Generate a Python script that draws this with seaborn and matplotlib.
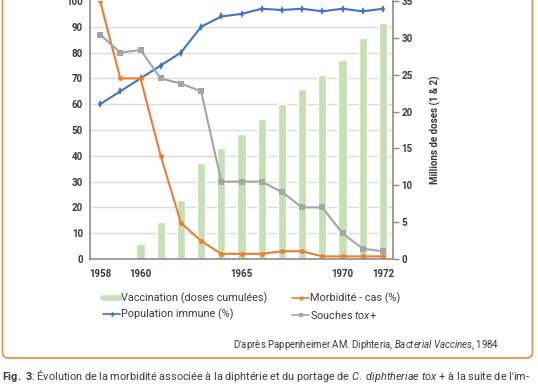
import matplotlib
matplotlib.use('Agg')
import matplotlib.pyplot as plt
import numpy as np
import pandas as pd
import seaborn as sns
from matplotlib.lines import Line2D
from matplotlib.patches import FancyBboxPatch
from matplotlib.ticker import MultipleLocator

years = list(range(1958, 1973))
vaccination = [np.nan, np.nan, 2, 5, 8, 13, 15, 17, 19, 21, 23, 25, 27, 30, 32]
population_immune = [60, 65, 70, 75, 80, 90, 94, 95, 97, 96.5, 97, 96, 97, 96, 97]
morbidite = [100, 70, 70, 40, 14, 7, 2, 2, 2, 3, 3, 1, 1, 1, 1]
souches = [87, 80, 81, 70, 68, 65, 30, 30, 30, 26, 20, 20, 10, 4, 3]
xtick_years = [1958, 1960, 1965, 1970, 1972]

GREEN = '#c5e0b4'
BLUE = '#4472c4'
ORANGE = '#ed7d31'
GRAY = '#a5a5a5'
TXT = '#3a3a3a'
SPINE = '#8c8c8c'

sns.set_style("white")
plt.rcParams['font.family'] = ['Roboto', 'DejaVu Sans']
plt.rcParams['mathtext.fontset'] = 'custom'
plt.rcParams['mathtext.rm'] = 'Roboto'
plt.rcParams['mathtext.it'] = 'Roboto:italic'
plt.rcParams['mathtext.bf'] = 'Roboto:bold'

df = pd.DataFrame({'year': years, 'vacc': vaccination, 'immune': population_immune,
                   'morb': morbidite, 'souches': souches})

fig = plt.figure(figsize=(5.38, 3.84), dpi=100)
ax_bar = fig.add_axes([90 / 538, 1 - 259 / 384, 303 / 538, 258 / 384])
ax_line = ax_bar.twinx()

# bars (right axis, millions of doses)
sns.barplot(data=df.dropna(subset=['vacc']), x='year', y='vacc', native_scale=True,
            width=0.4, color=GREEN, saturation=1, ax=ax_bar, zorder=2)
ax_bar.set_ylim(0, 35)
ax_bar.yaxis.tick_right()
ax_bar.yaxis.set_label_position('right')
ax_bar.yaxis.set_major_locator(MultipleLocator(5))
ax_bar.yaxis.set_minor_locator(MultipleLocator(3.5))
ax_bar.grid(which='minor', axis='y', color='#dcdcdc', lw=1)
ax_bar.grid(which='major', axis='y', visible=False)
ax_bar.set_axisbelow(True)
ax_bar.tick_params(axis='y', which='major', direction='out', length=4, width=1,
                   color=SPINE, pad=2, labelsize=7, labelcolor=TXT)
ax_bar.tick_params(axis='y', which='minor', length=0)
for lab in ax_bar.get_yticklabels():
    lab.set_fontweight('bold')
ax_bar.set_ylabel('Millions de doses (1 & 2)', fontsize=7, fontweight='bold',
                  color=TXT, labelpad=12)
ax_bar.set_xlabel('')
ax_bar.spines['top'].set_visible(False)
for side in ['left', 'right', 'bottom']:
    ax_bar.spines[side].set_color(SPINE)
    ax_bar.spines[side].set_linewidth(1.2)

# lines (left axis, %)
sns.lineplot(data=df, x='year', y='immune', color=BLUE, marker='d', markersize=4,
             markeredgewidth=0, lw=1.5, ax=ax_line, legend=False)
sns.lineplot(data=df, x='year', y='morb', color=ORANGE, marker='o', markersize=3.5,
             markeredgewidth=0, lw=1.5, ax=ax_line, legend=False)
sns.lineplot(data=df, x='year', y='souches', color=GRAY, marker='s', markersize=5,
             markeredgewidth=0, lw=1.5, ax=ax_line, legend=False)
ax_line.set_ylim(0, 100)
ax_line.yaxis.tick_left()
ax_line.yaxis.set_label_position('left')
ax_line.yaxis.set_major_locator(MultipleLocator(10))
ax_line.tick_params(axis='y', length=0, pad=5, labelsize=7, labelcolor=TXT)
for lab in ax_line.get_yticklabels():
    lab.set_fontweight('bold')
ax_line.set_ylabel('')
ax_line.set_xlabel('')
for sp in ax_line.spines.values():
    sp.set_visible(False)

ax_bar.set_xlim(1957.5, 1972.5)
ax_bar.set_xticks(xtick_years)
ax_bar.set_xticklabels([str(y) for y in xtick_years], fontsize=7, fontweight='bold', color=TXT)
ax_bar.tick_params(axis='x', length=0, pad=7)

# legend
handles = [
    Line2D([], [], color=GREEN, lw=4),
    Line2D([], [], color=BLUE, lw=1.2, marker='d', markersize=3, markeredgewidth=0),
    Line2D([], [], color=ORANGE, lw=1.2, marker='o', markersize=3, markeredgewidth=0),
    Line2D([], [], color=GRAY, lw=1.2, marker='s', markersize=3.5, markeredgewidth=0),
]
labels = ['Vaccination (doses cumulées)', 'Population immune (%)',
          'Morbidité - cas (%)', 'Souches $\\it{tox}$+']
fig.legend(handles, labels, ncol=2, loc='upper left', bbox_to_anchor=(98 / 538, 1 - 287 / 384),
           frameon=False, fontsize=7.8, handlelength=1.5, handletextpad=0.15,
           columnspacing=2.3, labelspacing=0.45, labelcolor=TXT, borderpad=0)

# rounded orange frame (top runs past the picture edge)
frame = FancyBboxPatch((0.025, 0.26), 5.30, 3.9, boxstyle='round,pad=0,rounding_size=0.06',
                       transform=fig.dpi_scale_trans, fill=False, edgecolor='#ec9a5c',
                       lw=1.4, clip_on=False)
fig.patches.append(frame)

fig.text(233 / 538, 1 - 348 / 384,
         "D'après Pappenheimer AM. Diphteria, $\\it{Bacterial\\ Vaccines}$, 1984",
         fontsize=6.9, color=TXT, va='baseline', ha='left')

fig.text(2 / 538, 1 - 380.5 / 384,
         "$\\bf{Fig.\\ 3}$: Évolution de la morbidité associée à la diphtérie et du portage de "
         "$\\it{C.\\ diphtheriae\\ tox}$ + à la suite de l'im-",
         fontsize=7.8, color=TXT, va='baseline', ha='left')

fig.savefig('out.png', dpi=100)
